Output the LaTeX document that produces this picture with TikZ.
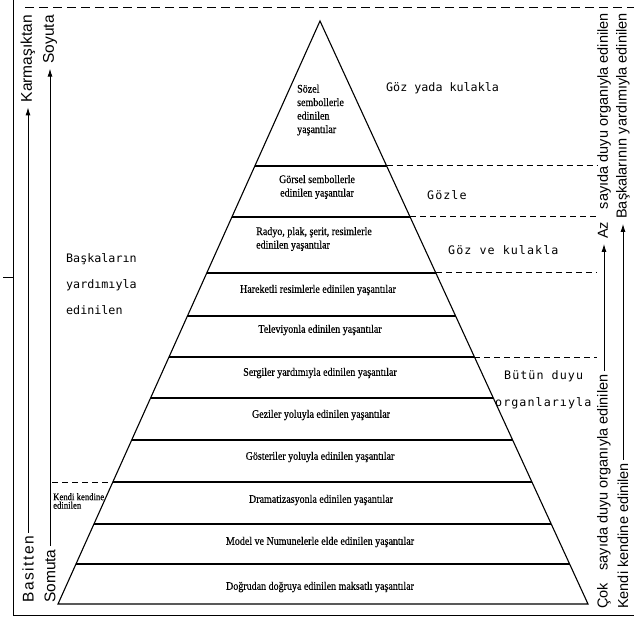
\documentclass[tikz,border=0pt]{standalone}
\usepackage{fontspec}
\setmainfont{Liberation Serif}[FakeStretch=0.87, FakeBold=0.4]
\setsansfont{Liberation Sans}
\newfontfamily\spacedfont{DejaVu Sans Mono}
\newfontfamily\widespacedfont[LetterSpace=9]{DejaVu Sans Mono}
\newfontfamily\widesans[LetterSpace=10]{Liberation Sans}
\usetikzlibrary{arrows.meta,calc}
\begin{document}
\begin{tikzpicture}[x=1pt,y=-1pt,
  layer/.style={line width=1.1pt},
  guide/.style={dash pattern=on 6pt off 4pt, line width=1pt},
  topguide/.style={dash pattern=on 9pt off 5pt, line width=1pt},
  ptext/.style={font=\fontsize{11.5}{13.5}\selectfont, inner sep=0pt},
  side/.style={font=\sffamily\fontsize{14.5}{17}\selectfont, rotate=90, inner sep=0pt},
  leftside/.style={side, font=\sffamily\fontsize{15.5}{17}\selectfont},
  sense/.style={font=\spacedfont\fontsize{11.7}{14}\selectfont, inner sep=0pt, anchor=west},
  widesense/.style={font=\widespacedfont\fontsize{11.7}{14}\selectfont, inner sep=0pt, anchor=west},
  up/.style={-{Latex[length=8pt,width=5pt]}, line width=0.9pt, shorten <=3pt, shorten >=5pt}
]
\useasboundingbox (0,0) rectangle (634,624);
\fill[white] (0,0) rectangle (634,624);

% frame
\draw[line width=1pt] (13,0) -- (13,615) -- (634,615);
\draw[topguide] (25,7) -- (634,7);
\draw[line width=0.8pt] (3,277) -- (13,277);

% pyramid
\coordinate (A) at (320,21);
\coordinate (BL) at (58,604);
\coordinate (BR) at (588,604);
\draw[layer, line join=miter] (BL) -- (A) -- (BR) -- cycle;
\foreach \i/\y in {1/166,2/217,3/273,4/316,5/357,6/398,7/440,8/482,9/524,10/564}{
  \coordinate (L\i) at ($(A)!{(\y-21)/583}!(BL)$);
  \coordinate (R\i) at ($(A)!{(\y-21)/583}!(BR)$);
  \draw[layer] (L\i) -- (R\i);
}
\coordinate (E) at (597,0);
\foreach \i in {1,2,3,5} \draw[guide] (R\i) -- (R\i -| E);
\coordinate (W) at (52,0);
\draw[guide] (L8 -| W) -- (L8);

% pyramid texts
\node[ptext, anchor=west, align=left] (t1) at (297,110) {Sözel\\sembollerle\\edinilen\\yaşantılar};
\node[ptext, align=center] (t2) at (317,187) {Görsel sembollerle\\edinilen yaşantılar};
\node[ptext, anchor=west, align=left] (t3) at (256,239) {Radyo, plak, şerit, resimlerle\\edinilen yaşantılar};
\node[ptext] (t4) at (318,290) {Hareketli resimlerle edinilen yaşantılar};
\node[ptext] (t5) at (320,330) {Televiyonla edinilen yaşantılar};
\node[ptext] (t6) at (320,373) {Sergiler yardımıyla edinilen yaşantılar};
\node[ptext] (t7) at (321,415) {Geziler yoluyla edinilen yaşantılar};
\node[ptext] (t8) at (320,457) {Gösteriler yoluyla edinilen yaşantılar};
\node[ptext] (t9) at (321,500) {Dramatizasyonla edinilen yaşantılar};
\node[ptext] (t10) at (320,542) {Model ve Numunelerle elde edinilen yaşantılar};
\node[ptext] (t11) at (320,587) {Doğrudan doğruya edinilen maksatlı yaşantılar};

% sense labels
\node[sense] (s1) at (386,88) {Göz yada kulakla};
\node[widesense] (s2) at (427,195) {Gözle};
\node[widesense] (s3) at (448,250) {Göz ve kulakla};
\node[widesense] (s4) at (504,376) {Bütün duyu};
\node[widesense] (s5) at (495,403) {organlarıyla};
\node[sense, align=left, font=\spacedfont\fontsize{11.7}{26}\selectfont] (s6) at (66,284) {Başkaların\\yardımıyla\\edinilen};
\node[font=\fontsize{10}{8.5}\selectfont, anchor=west, align=left, inner sep=0pt] (k) at (53,501) {Kendi kendine\\edinilen};

% side arrows left
\node[leftside, anchor=west, font=\widesans\fontsize{15.5}{17}\selectfont] (bas) at (28,603) {Basitten};
\node[leftside, anchor=east] (kar) at (28,15) {Karmaşıktan};
\draw[up] (bas.east) -- (kar.west);
\node[leftside, anchor=west] (som) at (50,603) {Somuta};
\node[leftside, anchor=east] (soy) at (50,15) {Soyuta};
\draw[up] (som.east) -- (soy.west);

% side arrows right
\node[side, anchor=west] (cok) at (604,609) {Çok\hspace{0.6em} sayıda duyu organıyla edinilen};
\node[side, anchor=east] (az) at (604,13) {Az\hspace{0.6em} sayıda duyu organıyla edinilen};
\draw[up] (cok.east) -- (az.west);
\node[side, anchor=west] (ken) at (623,609) {Kendi kendine edinilen};
\node[side, anchor=east] (bsk) at (623,13) {Başkalarının yardımıyla edinilen};
\draw[up] (ken.east) -- (bsk.west);
\end{tikzpicture}
\end{document}
